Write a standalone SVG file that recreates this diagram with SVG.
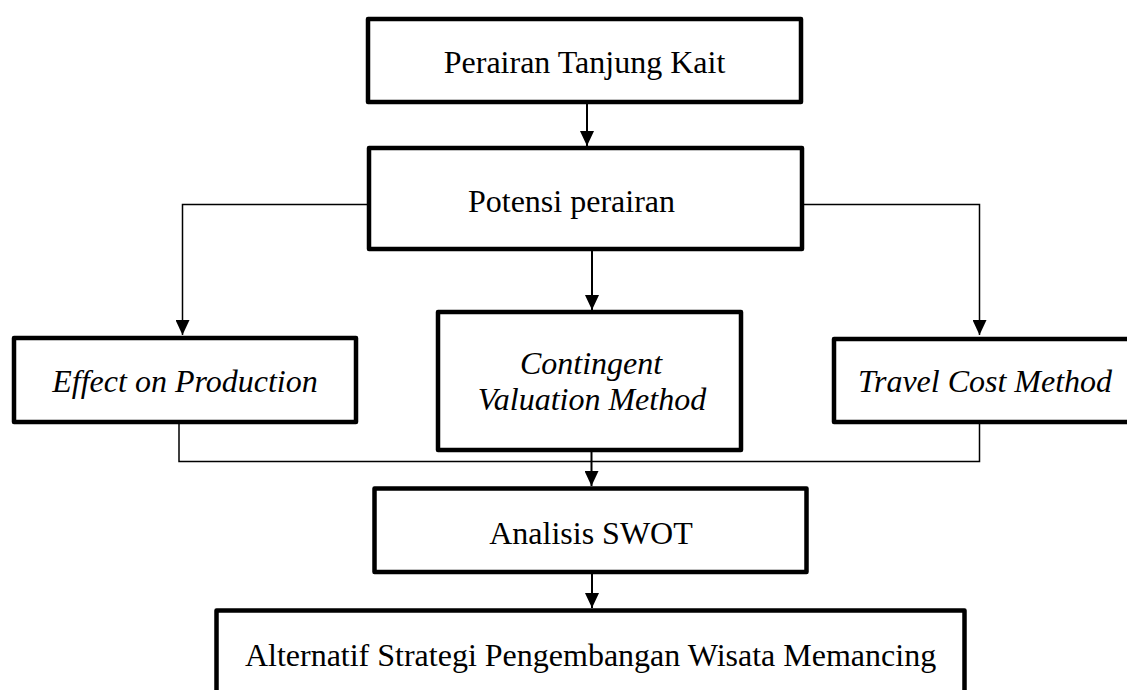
<svg xmlns="http://www.w3.org/2000/svg" width="1127" height="690" viewBox="0 0 1127 690">
  <style>
    .box { fill: #ffffff; stroke: #000000; stroke-width: 4.5; stroke-linejoin: round; }
    .lbl { font-family: "Liberation Serif", "Times New Roman", serif; font-size: 32px; fill: #000000; text-anchor: middle; }
    .it { font-style: italic; }
    .conn { fill: none; stroke: #000000; stroke-width: 1.5; }
    .arr { fill: none; stroke: #000000; stroke-width: 2; }
  </style>
  <defs>
    <marker id="ah" markerUnits="userSpaceOnUse" viewBox="0 0 15 14" refX="15" refY="7" markerWidth="15" markerHeight="14" orient="auto">
      <path d="M0,0 L15,7 L0,14 z" fill="#000000"/>
    </marker>
  </defs>
  <rect width="1127" height="690" fill="#ffffff"/>

  <g id="connectors">
    <line class="arr" x1="587" y1="104" x2="587" y2="146" marker-end="url(#ah)"/>
    <path class="conn" d="M367,204.5 H182.5 V335" marker-end="url(#ah)"/>
    <path class="conn" d="M804,204.5 H979.5 V335" marker-end="url(#ah)"/>
    <line class="arr" x1="592" y1="251" x2="592" y2="310" marker-end="url(#ah)"/>
    <path class="conn" d="M179,424 V461.5 H979.5 V424"/>
    <line class="arr" x1="591.5" y1="452" x2="591.5" y2="486" marker-end="url(#ah)"/>
    <line class="arr" x1="592" y1="574" x2="592" y2="608" marker-end="url(#ah)"/>
  </g>

  <g id="node-perairan">
    <rect class="box" x="368" y="19" width="433" height="83"/>
    <text class="lbl" x="584.5" y="73">Perairan Tanjung Kait</text>
  </g>

  <g id="node-potensi">
    <rect class="box" x="369" y="148" width="433" height="101"/>
    <text class="lbl" x="571.5" y="212">Potensi perairan</text>
  </g>

  <g id="node-eop">
    <rect class="box" x="14" y="338" width="342" height="84"/>
    <text class="lbl it" x="185" y="392">Effect on Production</text>
  </g>

  <g id="node-cvm">
    <rect class="box" x="438" y="312" width="303" height="138"/>
    <text class="lbl it" x="591" y="374">Contingent</text>
    <text class="lbl it" x="592" y="410">Valuation Method</text>
  </g>

  <g id="node-tcm">
    <rect class="box" x="834" y="339" width="302" height="83"/>
    <text class="lbl it" x="985" y="392">Travel Cost Method</text>
  </g>

  <g id="node-swot">
    <rect class="box" x="374.5" y="488.5" width="432" height="83.5"/>
    <text class="lbl" x="591" y="544">Analisis SWOT</text>
  </g>

  <g id="node-alternatif">
    <rect class="box" x="216.5" y="610.5" width="748" height="100"/>
    <text class="lbl" x="590.5" y="666">Alternatif Strategi Pengembangan Wisata Memancing</text>
  </g>
</svg>
